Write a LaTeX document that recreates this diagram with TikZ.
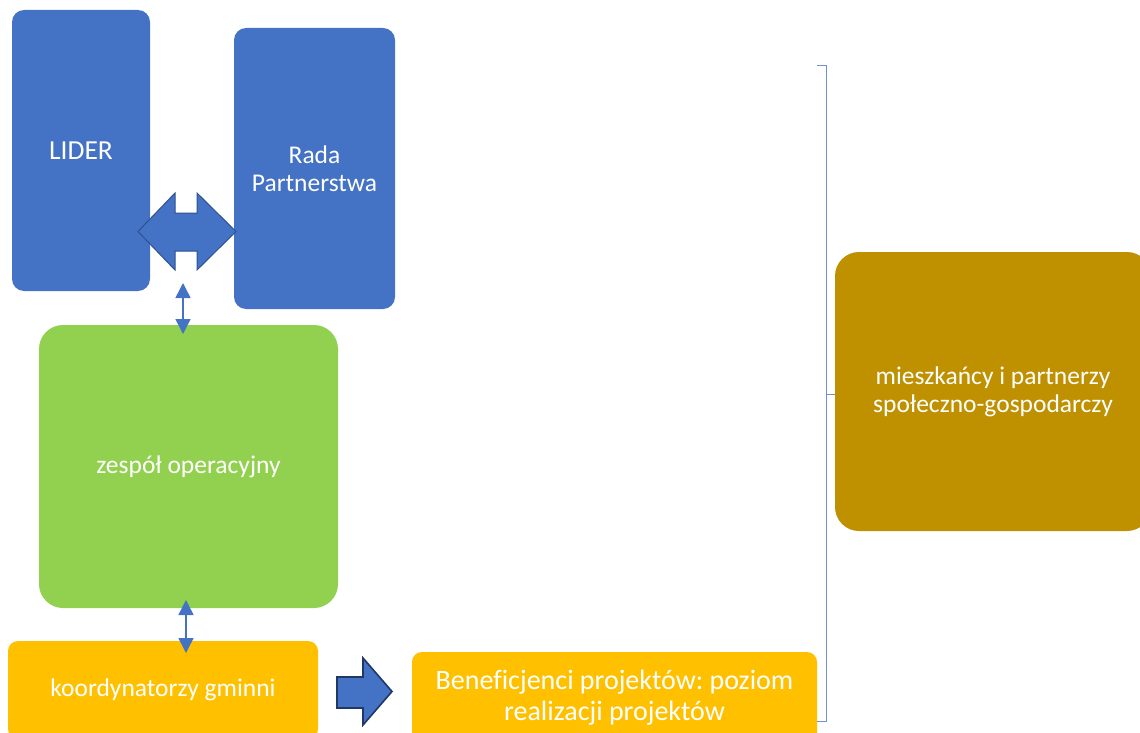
\documentclass[tikz,border=0pt]{standalone}
\usepackage{fontspec}
\setmainfont[Ligatures=NoCommon]{Carlito}
\frenchspacing
\usetikzlibrary{arrows.meta}
\definecolor{cblue}{HTML}{4472C4}
\definecolor{cblueline}{HTML}{2F528F}
\definecolor{cdark}{HTML}{1F3864}
\definecolor{cgreen}{HTML}{92D050}
\definecolor{cyellow}{HTML}{FFC000}
\definecolor{cgold}{HTML}{BF9000}
\definecolor{cbrace}{HTML}{6F90D2}
\tikzset{
  box/.style={draw=none,text=white,align=center,inner sep=0pt,font=\fontsize{25.5}{28}\selectfont},
  dbl/.style={cblue,line width=1.5pt,{Triangle[width=15pt,length=15pt]}-{Triangle[width=15pt,length=15pt]}},
  blockarrow/.style={fill=cblue,line join=miter},
}
\begin{document}
\begin{tikzpicture}[x=1pt,y=-1pt]
\useasboundingbox (0,0) rectangle (1140,733);
\clip (0,0) rectangle (1140,733);
\node[box,fill=cblue,rounded corners=12pt,minimum width=138pt,minimum height=281pt,font=\fontsize{27.5}{30}\selectfont] (lider) at (81,150.5) {LIDER};
\node[box,fill=cblue,rounded corners=12pt,minimum width=161pt,minimum height=281pt] (rada) at (314.5,168.5) {Rada\\Partnerstwa};
\node[box,fill=cgreen,rounded corners=24pt,minimum width=299pt,minimum height=283pt] (zes) at (188.5,466.5) {zespół operacyjny};
\node[box,fill=cyellow,rounded corners=10pt,minimum width=310pt,minimum height=98pt] (koo) at (163,690) {koordynatorzy gminni};
\node[box,fill=cyellow,rounded corners=10pt,minimum width=405pt,minimum height=92pt,font=\fontsize{28}{31}\selectfont] (ben) at (614.5,698) {Beneficjenci projektów: poziom\\realizacji projektów};
\node[box,fill=cgold,rounded corners=24pt,minimum width=316pt,minimum height=279pt] (mie) at (993,391.5) {mieszkańcy i partnerzy\\społeczno-gospodarczy};
% double block arrow between LIDER and Rada
\draw[blockarrow,draw=cblueline,line width=1pt]
  (138,231.5) -- (175,193) -- (175,213) -- (197,213) -- (197,193) -- (236,231.5)
  -- (197,270) -- (197,251) -- (175,251) -- (175,270) -- cycle;
% single block arrow
\draw[blockarrow,draw=cdark,line width=1.6pt]
  (337,677) -- (363,677) -- (363,658) -- (392,691.5) -- (363,725) -- (363,708) -- (337,708) -- cycle;
\coordinate (a1) at (183,283);
\coordinate (a2) at (183,334);
\coordinate (b1) at (186,600);
\coordinate (b2) at (186,653);
\draw[dbl] (a1) -- (a2);
\draw[dbl] (b1) -- (b2);
\coordinate (br1) at (817,66);
\coordinate (br2) at (826,66);
\coordinate (br3) at (826,721);
\coordinate (br4) at (817,721);
\coordinate (brm) at (826,394);
\draw[cbrace,line width=1pt] (br1) -- (br2) -- (br3) -- (br4);
\draw[cbrace,line width=1pt] (brm) -- (mie.west |- brm);
\end{tikzpicture}
\end{document}
